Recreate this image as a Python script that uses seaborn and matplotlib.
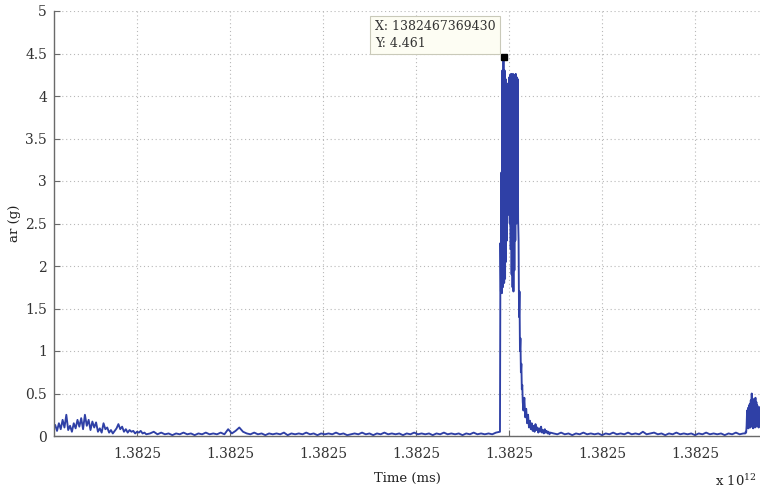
import numpy as np
import pandas as pd
import matplotlib
matplotlib.use("Agg")
import matplotlib.pyplot as plt
from matplotlib.ticker import MultipleLocator, FuncFormatter
import seaborn as sns

# Recording start (epoch, ms) and acceleration samples, split into segments
t0_ms = 1382467321000

quiet_start_s, quiet_step_s = 0.0, 0.2
quiet_vals = [0.09, 0.13, 0.06, 0.15, 0.08, 0.19, 0.10, 0.25, 0.07, 0.12,
              0.05, 0.15, 0.09, 0.19, 0.11, 0.21, 0.08, 0.25, 0.12, 0.19,
              0.07, 0.17, 0.10, 0.16, 0.05, 0.09, 0.04, 0.15, 0.08, 0.10,
              0.04, 0.07, 0.03, 0.06, 0.09, 0.14, 0.08, 0.11, 0.05, 0.08,
              0.04, 0.07, 0.05, 0.06, 0.03, 0.05, 0.04, 0.06, 0.03, 0.04,
              0.02]

rest_start_s, rest_step_s = 10.4, 0.4
rest_vals = [0.03, 0.05, 0.02, 0.04, 0.02, 0.03, 0.01, 0.03, 0.02, 0.04,
             0.02, 0.03, 0.01, 0.03, 0.02, 0.04, 0.02, 0.03, 0.02, 0.04,
             0.02, 0.08, 0.03, 0.06, 0.10, 0.05, 0.03, 0.02, 0.04, 0.02,
             0.03, 0.01, 0.03, 0.02, 0.03, 0.02, 0.04, 0.01, 0.03, 0.02,
             0.03, 0.02, 0.04, 0.02, 0.03, 0.01, 0.03, 0.02, 0.03, 0.02,
             0.04, 0.02, 0.03, 0.01, 0.02, 0.03, 0.02, 0.04, 0.02, 0.03,
             0.01, 0.03, 0.02, 0.04, 0.02, 0.03, 0.02, 0.03, 0.01, 0.03,
             0.02, 0.04, 0.02, 0.03, 0.02, 0.03, 0.01, 0.03, 0.02, 0.04,
             0.02, 0.03, 0.02, 0.03, 0.01, 0.03, 0.02, 0.04, 0.02, 0.03,
             0.02, 0.03, 0.02, 0.04]

burst_start_s, burst_step_s = 48.03, 0.05
burst_vals = [0.05, 2.27, 1.70, 3.10, 1.68, 4.30, 1.75, 4.40, 4.461, 1.80,
              4.30, 1.85, 4.20, 2.05, 4.12, 2.30, 4.10, 2.60, 4.15, 2.80,
              4.22, 2.50, 4.25, 2.20, 4.26, 1.90, 4.25, 1.75, 4.26, 1.70,
              4.24, 1.95, 4.25, 2.30, 4.26, 2.50, 4.22, 2.60, 4.20, 2.55,
              2.30, 1.40, 1.70, 1.00, 1.15, 0.75, 0.85, 0.55, 0.60, 0.40]

decay_start_s, decay_step_s = 50.55, 0.1
decay_vals = [0.30, 0.45, 0.22, 0.32, 0.15, 0.25, 0.10, 0.18, 0.08, 0.15,
              0.06, 0.12, 0.05, 0.14, 0.07, 0.10, 0.04, 0.09, 0.05, 0.11,
              0.04, 0.07, 0.03, 0.08, 0.04, 0.06, 0.03, 0.05, 0.02, 0.04]

calm_start_s, calm_step_s = 53.8, 0.4
calm_vals = [0.03, 0.02, 0.04, 0.02, 0.03, 0.01, 0.03, 0.02, 0.04, 0.02,
             0.03, 0.02, 0.03, 0.01, 0.03, 0.02, 0.04, 0.02, 0.03, 0.02,
             0.04, 0.02, 0.03, 0.02, 0.05, 0.02, 0.03, 0.04, 0.02, 0.03,
             0.01, 0.03, 0.02, 0.04, 0.02, 0.03, 0.02, 0.03, 0.01, 0.03,
             0.02, 0.04, 0.02, 0.03, 0.02, 0.03, 0.01, 0.03, 0.02, 0.04,
             0.02, 0.03]

end_start_s, end_step_s = 74.4, 0.05
end_vals = [0.03, 0.05, 0.04, 0.12, 0.30, 0.10, 0.33, 0.09, 0.36, 0.12,
            0.38, 0.10, 0.42, 0.13, 0.50, 0.11, 0.44, 0.09, 0.38, 0.12,
            0.42, 0.10, 0.45, 0.14, 0.40, 0.11, 0.36, 0.12, 0.30, 0.10,
            0.34, 0.12, 0.30]

segments = [
    (quiet_start_s, quiet_step_s, quiet_vals),
    (rest_start_s, rest_step_s, rest_vals),
    (burst_start_s, burst_step_s, burst_vals),
    (decay_start_s, decay_step_s, decay_vals),
    (calm_start_s, calm_step_s, calm_vals),
    (end_start_s, end_step_s, end_vals),
]

times, accel = [], []
for start, step, vals in segments:
    offs = start + step * np.arange(len(vals))
    times.extend(np.round(t0_ms + offs * 1000.0))
    accel.extend(vals)

df = pd.DataFrame({"time_ms": np.array(times, dtype=float), "ar": accel})

x_lo, x_hi = 1382467321075, 1382467396990
tick_step_ms = 10000

sns.set_theme(style="white")
plt.rcParams["font.family"] = ["DejaVu Serif"]
plt.rcParams["mathtext.fontset"] = "dejavuserif"

fig = plt.figure(figsize=(7.6, 4.91), dpi=100)
ax = fig.add_axes([54 / 760, 1 - 436 / 491, 1 - 54 / 760, (436 - 11) / 491])

sns.lineplot(data=df, x="time_ms", y="ar", ax=ax, color="#2f40a6",
             linewidth=1.35, estimator=None, sort=False)

ax.set_xlim(x_lo, x_hi)
ax.set_ylim(0, 5)
ax.xaxis.set_major_locator(MultipleLocator(tick_step_ms))
ax.xaxis.set_major_formatter(FuncFormatter(lambda v, _: f"{v / 1e12:.4f}"))
ax.yaxis.set_major_locator(MultipleLocator(0.5))
ax.yaxis.set_major_formatter(FuncFormatter(lambda v, _: f"{v:g}"))

ax.grid(True, color="#b8b8b8", linestyle=(0, (1, 2.5)), linewidth=0.8)
ax.set_axisbelow(True)
for side in ("top", "right"):
    ax.spines[side].set_visible(False)
for side in ("left", "bottom"):
    ax.spines[side].set_color("#6a6a6a")
    ax.spines[side].set_linewidth(1.0)

ax.tick_params(axis="both", direction="in", length=4, width=0.8,
               color="#6a6a6a", labelcolor="#333333", labelsize=10)
ax.tick_params(axis="x", pad=8, bottom=True)
ax.tick_params(axis="y", pad=5, left=True)

ax.set_xlabel("Time (ms)", fontsize=9.5, color="#222222", labelpad=8)
ax.set_ylabel("ar (g)", fontsize=9.5, color="#222222", labelpad=3)

fig.text(715 / 760, 1 - 481 / 491, r"x 10$^{12}$", fontsize=9.5,
         color="#222222", ha="left", va="center")

# Data tip on the largest sample
i_peak = int(np.argmax(df["ar"].values))
x_tip = df["time_ms"].iloc[i_peak]
y_tip = df["ar"].iloc[i_peak]
ax.plot([x_tip], [y_tip], marker="s", color="black", markersize=4.5, zorder=5)
ax.annotate(f"X: {x_tip:.0f}\nY: {y_tip:.3f}", xy=(x_tip, y_tip),
            xytext=(-6, 5), textcoords="offset points", ha="right", va="bottom",
            multialignment="left",
            fontsize=9, color="#333333", linespacing=1.35,
            bbox=dict(boxstyle="square,pad=0.35", facecolor="#fdfdf3",
                      edgecolor="#c9c9b9", linewidth=0.8), zorder=6)

fig.savefig("out.png", dpi=100)
